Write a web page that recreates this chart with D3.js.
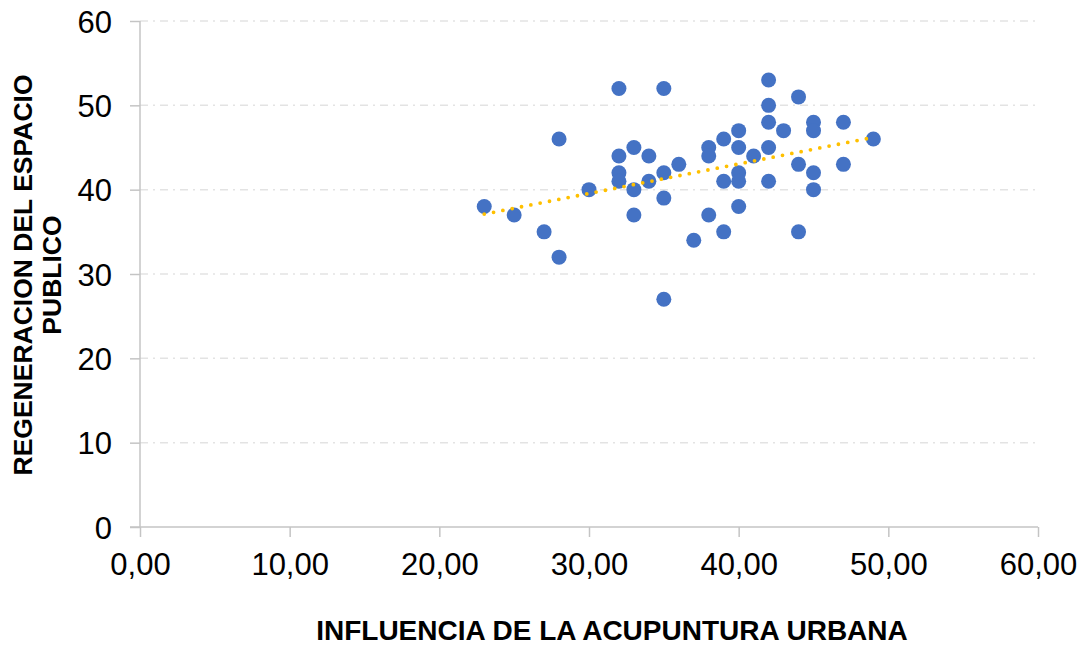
<!DOCTYPE html>
<html>
<head>
<meta charset="utf-8">
<script src="https://cdn.jsdelivr.net/npm/d3@7"></script>
<style>
  body { margin: 0; background: #fff; }
  svg { display: block; font-family: "Liberation Sans", Arial, sans-serif; }
</style>
</head>
<body>
<div id="chart"></div>
<script>
// influencia de la acupuntura urbana (x) vs regeneracion del espacio publico (y)
let xVals = [23, 25, 27, 28, 28, 30, 32, 32, 32, 32, 33, 33, 33, 34, 34, 35, 35, 35, 35, 36,
             37, 38, 38, 38, 39, 39, 39, 40, 40, 40, 40, 40, 41, 42, 42, 42, 42, 42, 43, 44,
             44, 44, 45, 45, 45, 45, 47, 47, 49]
let yVals = [38, 37, 35, 46, 32, 40, 52, 44, 42, 41, 45, 40, 37, 44, 41, 52, 42, 39, 27, 43,
             34, 45, 44, 37, 46, 41, 35, 47, 45, 42, 41, 38, 44, 53, 50, 48, 45, 41, 47, 51,
             43, 35, 48, 47, 42, 40, 48, 43, 46]
// linear trendline as shown in the chart (y = slope * x + intercept)
let trendSlope = 0.35
let trendIntercept = 29.05
let xTicks = [0, 10, 20, 30, 40, 50, 60]
let yTicks = [0, 10, 20, 30, 40, 50, 60]
let xTitle = "INFLUENCIA DE LA ACUPUNTURA URBANA"
let yTitle = ["REGENERACION DEL ESPACIO", "PUBLICO"]

let W = 1086, H = 645,
    pLeft = 140, pRight = 1038, pTop = 21, pBottom = 527

let svg = d3.select("#chart").append("svg")
    .attr("width", W)
    .attr("height", H)

let x = d3.scaleLinear().domain([0, 60]).range([pLeft, pRight])
let y = d3.scaleLinear().domain([0, 60]).range([pBottom, pTop])

// gridlines
svg.append("g")
  .selectAll("line")
  .data(yTicks.filter(t => t > 0))
  .join("line")
    .attr("x1", pLeft).attr("x2", pRight)
    .attr("y1", d => y(d)).attr("y2", d => y(d))
    .attr("stroke", "#e3e3e3")
    .attr("stroke-width", 1.5)
    .attr("stroke-dasharray", "8,5,2,5")

// axes
let xAxis = svg.append("g")
    .attr("transform", `translate(0,${pBottom})`)
    .call(d3.axisBottom(x).tickValues(xTicks).tickSize(10).tickPadding(16)
          .tickFormat(d => d3.format(".2f")(d).replace(".", ",")))
let yAxis = svg.append("g")
    .attr("transform", `translate(${pLeft},0)`)
    .call(d3.axisLeft(y).tickValues(yTicks).tickSize(10).tickPadding(18))

;[xAxis, yAxis].forEach(g => {
    g.select(".domain").attr("stroke", "#c4c4c4").attr("stroke-width", 1.5)
    g.selectAll(".tick line").attr("stroke", "#c4c4c4").attr("stroke-width", 1.5)
    g.selectAll(".tick text")
        .attr("fill", "#000")
        .style("font-size", "31px")
        .style("font-family", "'Liberation Sans', Arial, sans-serif")
})
yAxis.select(".domain").attr("d", `M0,${pBottom}V${pTop}`)
xAxis.select(".domain").attr("d", `M${pLeft - 10},0H${pRight}`)
yAxis.selectAll(".tick text").attr("dy", "0.36em")
xAxis.selectAll(".tick text").attr("dy", "0.72em")

// points
svg.append("g")
  .selectAll("circle")
  .data(xVals.map((v, i) => [v, yVals[i]]))
  .join("circle")
    .attr("cx", d => x(d[0]))
    .attr("cy", d => y(d[1]))
    .attr("r", 7.5)
    .attr("fill", "#4472c4")

let xr = d3.extent(xVals)
svg.append("line")
    .attr("x1", x(xr[0])).attr("y1", y(trendIntercept + trendSlope * xr[0]))
    .attr("x2", x(xr[1])).attr("y2", y(trendIntercept + trendSlope * xr[1]))
    .attr("stroke", "#ffc000")
    .attr("stroke-width", 3.8)
    .attr("stroke-linecap", "round")
    .attr("stroke-dasharray", "0,9.5")

// titles
svg.append("text")
    .attr("x", (pLeft + pRight) / 2 + 23)
    .attr("y", 640)
    .attr("text-anchor", "middle")
    .style("font-size", "28px")
    .style("font-weight", "bold")
    .text(xTitle)

svg.append("text")
    .attr("transform", "translate(0,275) rotate(-90)")
    .attr("text-anchor", "middle")
    .style("font-size", "26.5px")
    .style("font-weight", "bold")
  .selectAll("tspan")
  .data(yTitle)
  .join("tspan")
    .attr("x", 0)
    .attr("y", (d, i) => 32 + i * 29)
    .text(d => d)
</script>
</body>
</html>
